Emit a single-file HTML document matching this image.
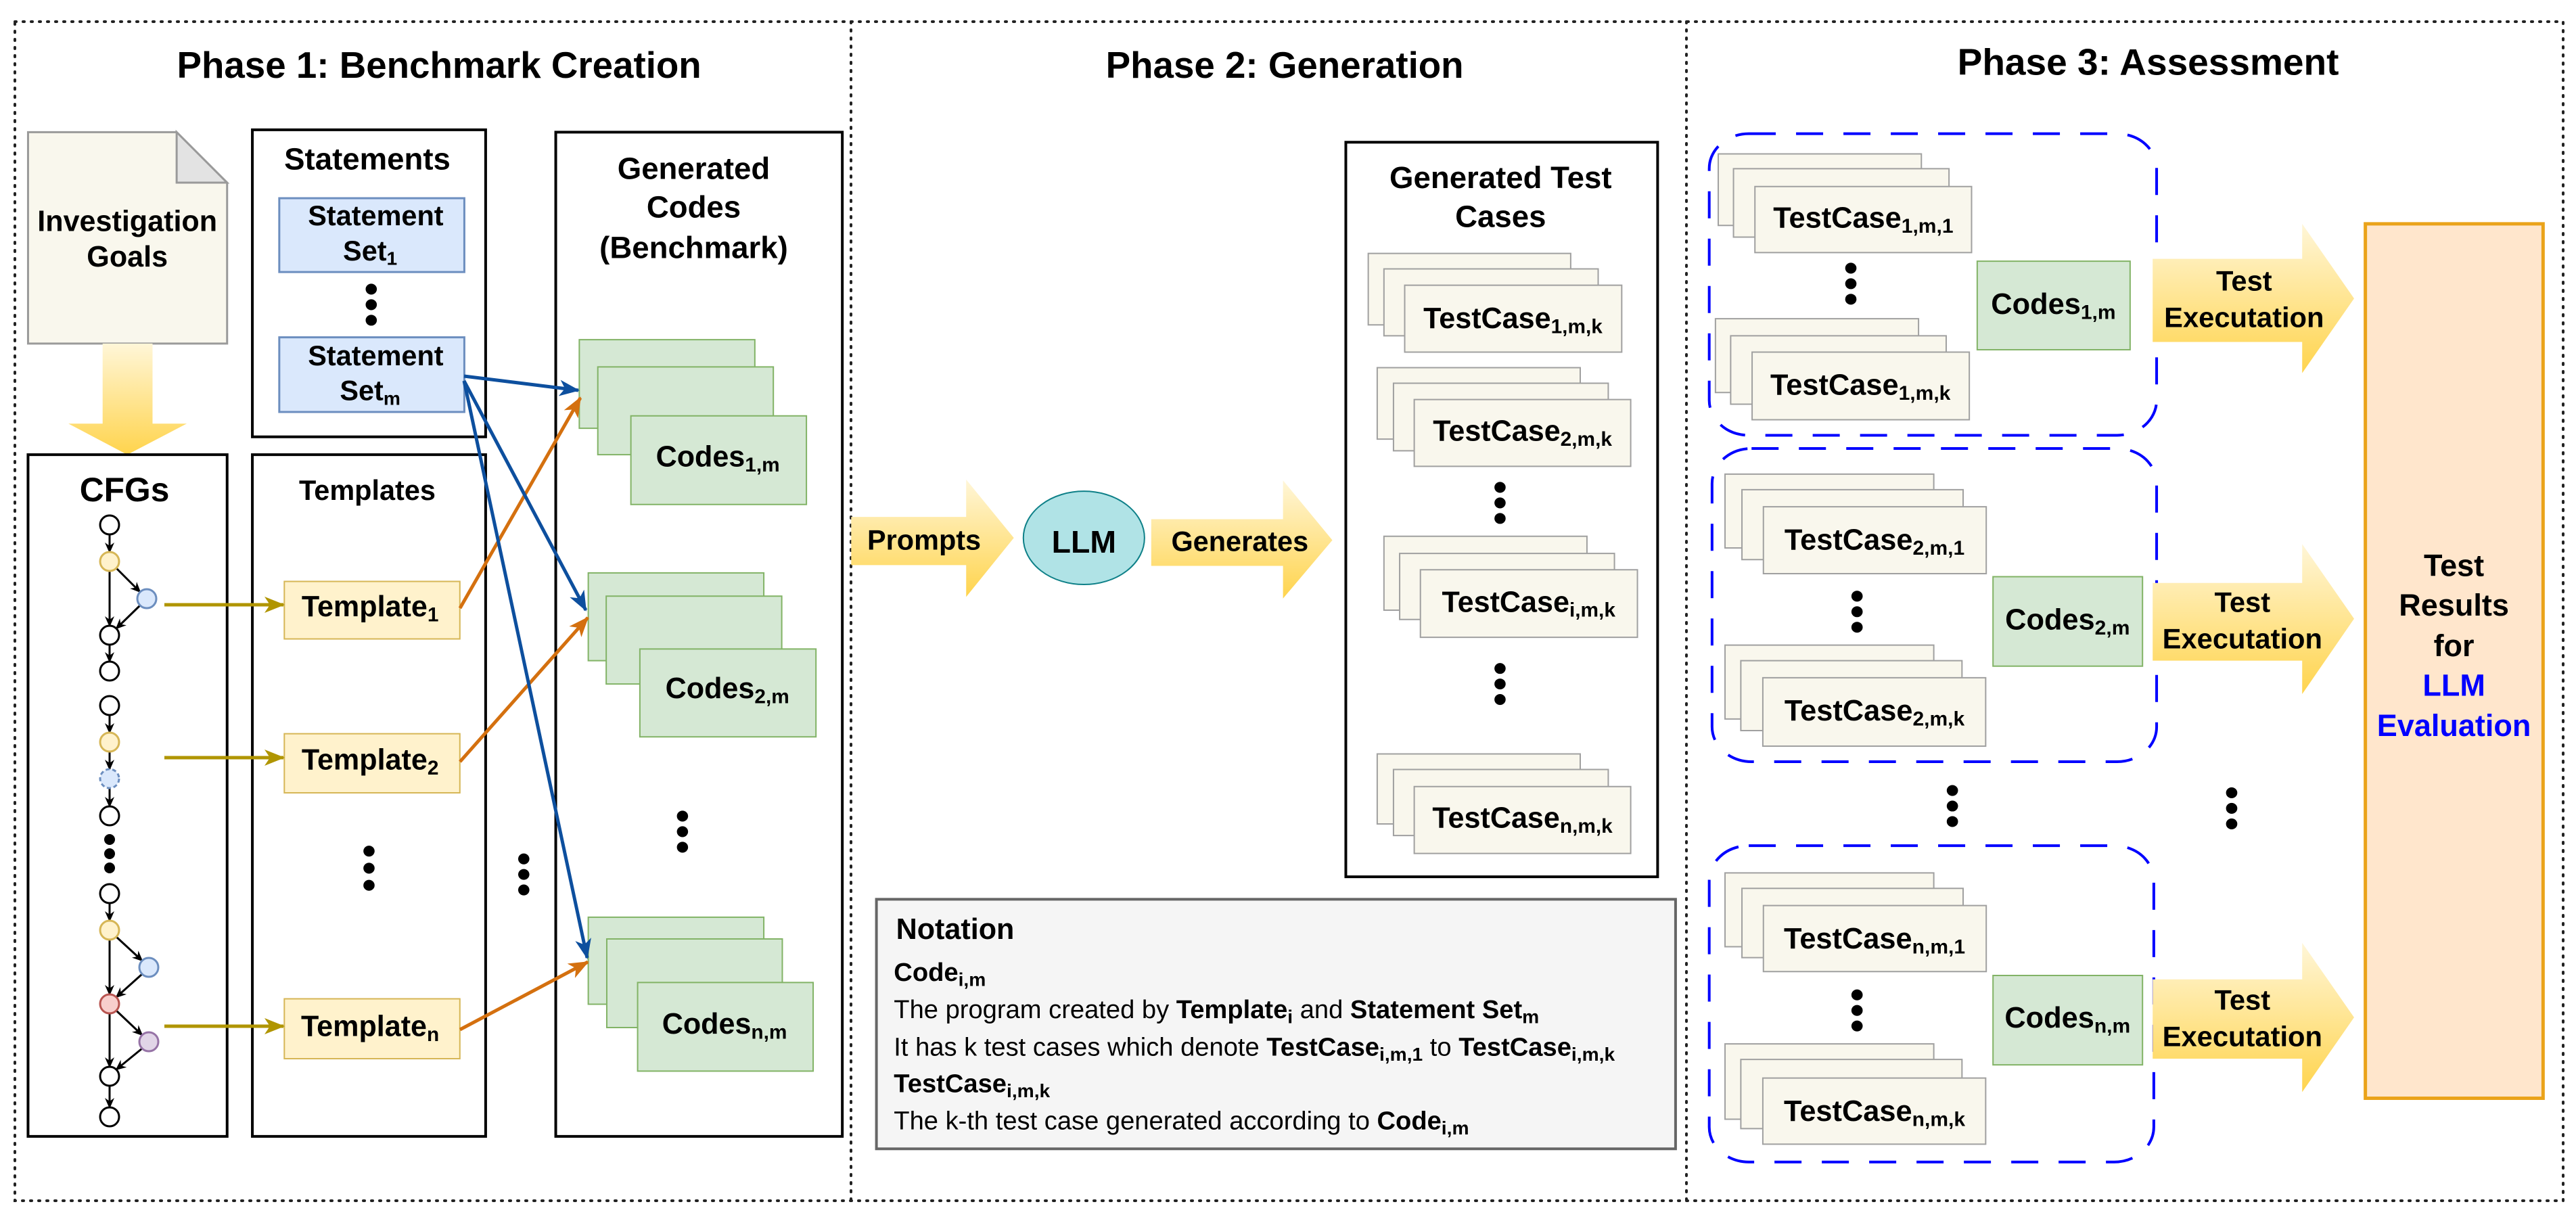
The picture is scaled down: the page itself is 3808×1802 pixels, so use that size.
<!DOCTYPE html>
<html><head><meta charset="utf-8"><style>
html,body{margin:0;padding:0;background:#fff;width:3808px;height:1802px;overflow:hidden}
svg{display:block}
text{font-family:"Liberation Sans",Arial,sans-serif;font-weight:bold;fill:#000}
rect,polygon,ellipse,path,line{vector-effect:non-scaling-stroke}
.bx{fill:#fff;stroke:#000;stroke-width:4}
.st{fill:#f9f7ed;stroke:#a0a0a0;stroke-width:2}
.gr{fill:#d5e8d4;stroke:#82b366;stroke-width:2}
.yl{fill:#fff2cc;stroke:#d6b656;stroke-width:2}
.bl{fill:#dae8fc;stroke:#6c8ebf;stroke-width:3}
.ds{fill:none;stroke:#0000ff;stroke-width:4;stroke-dasharray:40 30}
.ar{fill:url(#yg);stroke:none}
.n{font-weight:normal}
</style></head><body>
<svg width="3808" height="1802" viewBox="0 0 3808 1802" xmlns="http://www.w3.org/2000/svg">
<defs>
<linearGradient id="yg" x1="0" y1="0" x2="0" y2="1"><stop offset="0" stop-color="#fff6d8"/><stop offset="1" stop-color="#ffd44d"/></linearGradient>
<marker id="mk" markerUnits="userSpaceOnUse" markerWidth="16" markerHeight="16" refX="14" refY="8" orient="auto"><path d="M0,1 L16,8 L0,15 L5,8 z" fill="#000"/></marker>
<marker id="mo" markerUnits="userSpaceOnUse" markerWidth="30" markerHeight="26" refX="28" refY="13" orient="auto"><path d="M0,1 L30,13 L0,25 L8,13 z" fill="#b09500"/></marker>
<marker id="mr" markerUnits="userSpaceOnUse" markerWidth="30" markerHeight="26" refX="28" refY="13" orient="auto"><path d="M0,1 L30,13 L0,25 L8,13 z" fill="#d4700f"/></marker>
<marker id="mb" markerUnits="userSpaceOnUse" markerWidth="30" markerHeight="26" refX="28" refY="13" orient="auto"><path d="M0,1 L30,13 L0,25 L8,13 z" fill="#0d4f9e"/></marker>
</defs>

<!-- frame -->
<rect x="22" y="32" width="3767" height="1743" fill="none" stroke="#222" stroke-width="4" stroke-dasharray="2 10" stroke-linecap="round"/>
<line x1="1258" y1="32" x2="1258" y2="1775" stroke="#222" stroke-width="4" stroke-dasharray="2 10" stroke-linecap="round"/>
<line x1="2493" y1="32" x2="2493" y2="1775" stroke="#222" stroke-width="4" stroke-dasharray="2 10" stroke-linecap="round"/>

<!-- ===== Phase 1 ===== -->
<g transform="scale(0.829,1.149)">
<text text-anchor="middle" font-size="66" transform="translate(783,100) scale(1,0.7215)">Phase 1: Benchmark Creation</text>
<polygon points="50,170 315,170 405,235 405,442 50,442" fill="#f9f7ed" stroke="#9a9a9a" stroke-width="3"/>
<polygon points="315,170 315,235 405,235" fill="#e3e3e3" stroke="#9a9a9a" stroke-width="3"/>
<text text-anchor="middle" font-size="52" transform="translate(227,297) scale(1,0.7215)">Investigation</text>
<text text-anchor="middle" font-size="52" transform="translate(227,343) scale(1,0.7215)">Goals</text>
<polygon class="ar" points="183,442 272,442 272,545 333,545 227,585 122,545 183,545"/>

<rect class="bx" x="450" y="167" width="416" height="395"/>
<text text-anchor="middle" font-size="55" transform="translate(655,218) scale(1,0.7215)">Statements</text>
<rect class="bl" x="498" y="255" width="330" height="95"/>
<text text-anchor="middle" font-size="50" transform="translate(670,290) scale(1,0.7215)">Statement</text>
<text text-anchor="middle" font-size="50" transform="translate(660,335) scale(1,0.7215)">Set<tspan font-size="34" dy="8">1</tspan></text>
<ellipse cx="662" cy="372" rx="10" ry="7"/><ellipse cx="662" cy="392" rx="10" ry="7"/><ellipse cx="662" cy="412" rx="10" ry="7"/>
<rect class="bl" x="498" y="434" width="330" height="96"/>
<text text-anchor="middle" font-size="50" transform="translate(670,470) scale(1,0.7215)">Statement</text>
<text text-anchor="middle" font-size="50" transform="translate(660,515) scale(1,0.7215)">Set<tspan font-size="34" dy="8">m</tspan></text>

<rect class="bx" x="50" y="585" width="355" height="877"/>
<text text-anchor="middle" font-size="60" transform="translate(222,645) scale(1,0.7215)">CFGs</text>
<rect class="bx" x="450" y="585" width="416" height="877"/>
<text text-anchor="middle" font-size="50" transform="translate(655,643) scale(1,0.7215)">Templates</text>
<rect class="bx" x="991" y="170" width="511" height="1292"/>
<text text-anchor="middle" font-size="55" transform="translate(1237,230) scale(1,0.7215)">Generated</text>
<text text-anchor="middle" font-size="55" transform="translate(1237,280) scale(1,0.7215)">Codes</text>
<text text-anchor="middle" font-size="55" transform="translate(1237,332) scale(1,0.7215)">(Benchmark)</text>

<rect class="yl" x="507" y="748" width="313" height="74"/>
<text text-anchor="middle" font-size="52" transform="translate(660,793) scale(1,0.7215)">Template<tspan font-size="36" dy="9">1</tspan></text>
<rect class="yl" x="507" y="944" width="313" height="76"/>
<text text-anchor="middle" font-size="52" transform="translate(660,990) scale(1,0.7215)">Template<tspan font-size="36" dy="9">2</tspan></text>
<rect class="yl" x="507" y="1285" width="313" height="77"/>
<text text-anchor="middle" font-size="52" transform="translate(660,1333) scale(1,0.7215)">Template<tspan font-size="36" dy="9">n</tspan></text>
<ellipse cx="658" cy="1095" rx="10" ry="7"/><ellipse cx="658" cy="1117" rx="10" ry="7"/><ellipse cx="658" cy="1139" rx="10" ry="7"/>
<ellipse cx="934" cy="1105" rx="10" ry="7"/><ellipse cx="934" cy="1125" rx="10" ry="7"/><ellipse cx="934" cy="1145" rx="10" ry="7"/>
<ellipse cx="1217" cy="1050" rx="10" ry="7"/><ellipse cx="1217" cy="1070" rx="10" ry="7"/><ellipse cx="1217" cy="1090" rx="10" ry="7"/>

<rect class="gr" x="1033" y="437" width="313" height="114"/>
<rect class="gr" x="1066" y="472" width="313" height="113"/>
<rect class="gr" x="1125" y="535" width="313" height="114"/>
<text text-anchor="middle" font-size="52" transform="translate(1280,600) scale(1,0.7215)">Codes<tspan font-size="36" dy="9">1,m</tspan></text>
<rect class="gr" x="1049" y="737" width="313" height="113"/>
<rect class="gr" x="1081" y="767" width="313" height="113"/>
<rect class="gr" x="1141" y="835" width="314" height="113"/>
<text text-anchor="middle" font-size="52" transform="translate(1297,898) scale(1,0.7215)">Codes<tspan font-size="36" dy="9">2,m</tspan></text>
<rect class="gr" x="1049" y="1180" width="313" height="112"/>
<rect class="gr" x="1082" y="1208" width="313" height="114"/>
<rect class="gr" x="1137" y="1264" width="313" height="114"/>
<text text-anchor="middle" font-size="52" transform="translate(1292,1330) scale(1,0.7215)">Codes<tspan font-size="36" dy="9">n,m</tspan></text>
</g>

<!-- CFG graph (orig coords) -->
<g stroke="#000" stroke-width="3" fill="none">
<line x1="162" y1="790" x2="162" y2="816" marker-end="url(#mk)"/>
<line x1="162" y1="844" x2="162" y2="925" marker-end="url(#mk)"/>
<line x1="172" y1="840" x2="207" y2="875" marker-end="url(#mk)"/>
<line x1="207" y1="895" x2="172" y2="929" marker-end="url(#mk)"/>
<line x1="162" y1="953" x2="162" y2="978" marker-end="url(#mk)"/>
<line x1="162" y1="1057" x2="162" y2="1083" marker-end="url(#mk)"/>
<line x1="162" y1="1111" x2="162" y2="1137" marker-end="url(#mk)"/>
<line x1="162" y1="1165" x2="162" y2="1192" marker-end="url(#mk)"/>
<line x1="162" y1="1335" x2="162" y2="1361" marker-end="url(#mk)"/>
<line x1="162" y1="1389" x2="162" y2="1470" marker-end="url(#mk)"/>
<line x1="172" y1="1385" x2="210" y2="1420" marker-end="url(#mk)"/>
<line x1="210" y1="1440" x2="172" y2="1474" marker-end="url(#mk)"/>
<line x1="162" y1="1498" x2="162" y2="1577" marker-end="url(#mk)"/>
<line x1="172" y1="1494" x2="210" y2="1530" marker-end="url(#mk)"/>
<line x1="210" y1="1550" x2="172" y2="1581" marker-end="url(#mk)"/>
<line x1="162" y1="1605" x2="162" y2="1637" marker-end="url(#mk)"/>
</g>
<g stroke-width="3">
<circle cx="162" cy="776" r="14" fill="#fff" stroke="#000"/>
<circle cx="162" cy="830" r="14" fill="#fff2cc" stroke="#d6b656"/>
<circle cx="217" cy="885" r="14" fill="#dae8fc" stroke="#6c8ebf"/>
<circle cx="162" cy="939" r="14" fill="#fff" stroke="#000"/>
<circle cx="162" cy="992" r="14" fill="#fff" stroke="#000"/>
<circle cx="162" cy="1043" r="14" fill="#fff" stroke="#000"/>
<circle cx="162" cy="1097" r="14" fill="#fff2cc" stroke="#d6b656"/>
<circle cx="162" cy="1151" r="14" fill="#dae8fc" stroke="#6c8ebf" stroke-dasharray="6 4"/>
<circle cx="162" cy="1206" r="14" fill="#fff" stroke="#000"/>
<circle cx="162" cy="1241" r="8" fill="#000" stroke="none"/>
<circle cx="162" cy="1262" r="8" fill="#000" stroke="none"/>
<circle cx="162" cy="1283" r="8" fill="#000" stroke="none"/>
<circle cx="162" cy="1321" r="14" fill="#fff" stroke="#000"/>
<circle cx="162" cy="1375" r="14" fill="#fff2cc" stroke="#d6b656"/>
<circle cx="220" cy="1430" r="14" fill="#dae8fc" stroke="#6c8ebf"/>
<circle cx="162" cy="1484" r="14" fill="#f8cecc" stroke="#b85450"/>
<circle cx="220" cy="1540" r="14" fill="#e1d5e7" stroke="#9673a6"/>
<circle cx="162" cy="1591" r="14" fill="#fff" stroke="#000"/>
<circle cx="162" cy="1651" r="14" fill="#fff" stroke="#000"/>
</g>

<!-- connectors -->
<g stroke-width="5" fill="none">
<line x1="243" y1="894" x2="419" y2="894" stroke="#b09500" marker-end="url(#mo)"/>
<line x1="243" y1="1120" x2="419" y2="1120" stroke="#b09500" marker-end="url(#mo)"/>
<line x1="243" y1="1517" x2="419" y2="1517" stroke="#b09500" marker-end="url(#mo)"/>
<line x1="680" y1="899" x2="858" y2="588" stroke="#d4700f" marker-end="url(#mr)"/>
<line x1="680" y1="1126" x2="869" y2="913" stroke="#d4700f" marker-end="url(#mr)"/>
<line x1="680" y1="1522" x2="869" y2="1422" stroke="#d4700f" marker-end="url(#mr)"/>
<line x1="686" y1="556" x2="855" y2="577" stroke="#0d4f9e" marker-end="url(#mb)"/>
<line x1="686" y1="563" x2="866" y2="902" stroke="#0d4f9e" marker-end="url(#mb)"/>
<line x1="686" y1="563" x2="868" y2="1416" stroke="#0d4f9e" marker-end="url(#mb)"/>
</g>

<!-- ===== Phase 2 ===== -->
<g transform="translate(1250,0) scale(0.829,1.149)">
<text text-anchor="middle" font-size="66" transform="translate(783,100) scale(1,0.7215)">Phase 2: Generation</text>
<polygon class="ar" points="10,665 215,665 215,617 300,692 215,768 215,727 10,727"/>
<text text-anchor="middle" font-size="50" transform="translate(140,707) scale(1,0.7215)">Prompts</text>
<ellipse cx="425" cy="692" rx="108" ry="60" fill="#b0e3e6" stroke="#0e8088" stroke-width="2"/>
<text text-anchor="middle" font-size="56" transform="translate(425,711) scale(1,0.7215)">LLM</text>
<polygon class="ar" points="545,668 780,668 780,618 868,695 780,770 780,728 545,728"/>
<text text-anchor="middle" font-size="50" transform="translate(703,709) scale(1,0.7215)">Generates</text>

<rect class="bx" x="892" y="183" width="556" height="945"/>
<text text-anchor="middle" font-size="55" transform="translate(1168,242) scale(1,0.7215)">Generated Test</text>
<text text-anchor="middle" font-size="55" transform="translate(1168,292) scale(1,0.7215)">Cases</text>

<rect class="st" x="932" y="326" width="361" height="92"/><rect class="st" x="960" y="346" width="382" height="86"/><rect class="st" x="997" y="367" width="387" height="86"/>
<text text-anchor="middle" font-size="52" transform="translate(1190,422) scale(1,0.7215)">TestCase<tspan font-size="36" dy="9">1,m,k</tspan></text>
<rect class="st" x="948" y="473" width="362" height="92"/><rect class="st" x="977" y="493" width="383" height="87"/><rect class="st" x="1014" y="514" width="386" height="86"/>
<text text-anchor="middle" font-size="52" transform="translate(1207,567) scale(1,0.7215)">TestCase<tspan font-size="36" dy="9">2,m,k</tspan></text>
<ellipse cx="1167" cy="627" rx="10" ry="7"/><ellipse cx="1167" cy="647" rx="10" ry="7"/><ellipse cx="1167" cy="667" rx="10" ry="7"/>
<rect class="st" x="960" y="690" width="362" height="95"/><rect class="st" x="988" y="712" width="383" height="85"/><rect class="st" x="1025" y="733" width="387" height="87"/>
<text text-anchor="middle" font-size="52" transform="translate(1218,787) scale(1,0.7215)">TestCase<tspan font-size="36" dy="9">i,m,k</tspan></text>
<ellipse cx="1167" cy="860" rx="10" ry="7"/><ellipse cx="1167" cy="880" rx="10" ry="7"/><ellipse cx="1167" cy="900" rx="10" ry="7"/>
<rect class="st" x="948" y="970" width="362" height="90"/><rect class="st" x="977" y="990" width="383" height="85"/><rect class="st" x="1014" y="1012" width="386" height="86"/>
<text text-anchor="middle" font-size="52" transform="translate(1207,1065) scale(1,0.7215)">TestCase<tspan font-size="36" dy="9">n,m,k</tspan></text>

<rect x="55" y="1157" width="1425" height="321" fill="#f5f5f5" stroke="#666" stroke-width="4"/>
<text font-size="52" transform="translate(90,1208) scale(1,0.7215)">Notation</text>
<text font-size="46" transform="translate(86,1262) scale(1,0.7215)">Code<tspan font-size="34" dy="9">i,m</tspan></text>
<text font-size="46" transform="translate(86,1310) scale(1,0.7215)"><tspan class="n">The program created by </tspan>Template<tspan font-size="34" dy="9">i</tspan><tspan dy="-9" class="n"> and </tspan>Statement Set<tspan font-size="34" dy="9">m</tspan></text>
<text font-size="46" transform="translate(86,1358) scale(1,0.7215)"><tspan class="n">It has k test cases which denote </tspan>TestCase<tspan font-size="34" dy="9">i,m,1</tspan><tspan dy="-9" class="n"> to </tspan>TestCase<tspan font-size="34" dy="9">i,m,k</tspan></text>
<text font-size="46" transform="translate(86,1405) scale(1,0.7215)">TestCase<tspan font-size="34" dy="9">i,m,k</tspan></text>
<text font-size="46" transform="translate(86,1453) scale(1,0.7215)"><tspan class="n">The k-th test case generated according to </tspan>Code<tspan font-size="34" dy="9">i,m</tspan></text>
</g>

<!-- ===== Phase 3 ===== -->
<g transform="translate(2500,0) scale(0.834,1.149)">
<text text-anchor="middle" font-size="66" transform="translate(810,96) scale(1,0.7258)">Phase 3: Assessment</text>

<rect class="ds" x="32" y="172" width="793" height="388" rx="70" ry="45"/>
<rect class="ds" x="37" y="577" width="788" height="403" rx="70" ry="45"/>
<rect class="ds" x="32" y="1088" width="788" height="407" rx="70" ry="45"/>

<rect class="st" x="48" y="198" width="360" height="92"/><rect class="st" x="75" y="217" width="382" height="88"/><rect class="st" x="113" y="240" width="384" height="85"/>
<text text-anchor="middle" font-size="52" transform="translate(305,293) scale(1,0.7258)">TestCase<tspan font-size="36" dy="9">1,m,1</tspan></text>
<ellipse cx="283" cy="345" rx="10" ry="7"/><ellipse cx="283" cy="365" rx="10" ry="7"/><ellipse cx="283" cy="385" rx="10" ry="7"/>
<rect class="st" x="43" y="410" width="360" height="95"/><rect class="st" x="70" y="432" width="382" height="88"/><rect class="st" x="108" y="453" width="385" height="87"/>
<text text-anchor="middle" font-size="52" transform="translate(300,508) scale(1,0.7258)">TestCase<tspan font-size="36" dy="9">1,m,k</tspan></text>
<rect class="gr" x="507" y="336" width="271" height="114"/>
<text text-anchor="middle" font-size="52" transform="translate(642,404) scale(1,0.7258)">Codes<tspan font-size="36" dy="9">1,m</tspan></text>
<polygon class="ar" points="818,333 1083,333 1083,288 1175,384 1083,480 1083,440 818,440"/>
<text text-anchor="middle" font-size="50" transform="translate(980,374) scale(1,0.7258)">Test</text>
<text text-anchor="middle" font-size="50" transform="translate(980,421) scale(1,0.7258)">Executation</text>

<rect class="st" x="60" y="610" width="370" height="95"/><rect class="st" x="90" y="630" width="392" height="90"/><rect class="st" x="128" y="652" width="395" height="86"/>
<text text-anchor="middle" font-size="52" transform="translate(325,707) scale(1,0.7258)">TestCase<tspan font-size="36" dy="9">2,m,1</tspan></text>
<ellipse cx="294" cy="767" rx="10" ry="7"/><ellipse cx="294" cy="787" rx="10" ry="7"/><ellipse cx="294" cy="807" rx="10" ry="7"/>
<rect class="st" x="60" y="830" width="370" height="95"/><rect class="st" x="88" y="850" width="392" height="90"/><rect class="st" x="127" y="872" width="395" height="88"/>
<text text-anchor="middle" font-size="52" transform="translate(325,927) scale(1,0.7258)">TestCase<tspan font-size="36" dy="9">2,m,k</tspan></text>
<rect class="gr" x="535" y="742" width="265" height="115"/>
<text text-anchor="middle" font-size="52" transform="translate(667,810) scale(1,0.7258)">Codes<tspan font-size="36" dy="9">2,m</tspan></text>
<polygon class="ar" points="818,750 1083,750 1083,700 1175,796 1083,893 1083,850 818,850"/>
<text text-anchor="middle" font-size="50" transform="translate(977,787) scale(1,0.7258)">Test</text>
<text text-anchor="middle" font-size="50" transform="translate(977,834) scale(1,0.7258)">Executation</text>

<ellipse cx="463" cy="1017" rx="10" ry="7"/><ellipse cx="463" cy="1037" rx="10" ry="7"/><ellipse cx="463" cy="1057" rx="10" ry="7"/>
<ellipse cx="958" cy="1020" rx="10" ry="7"/><ellipse cx="958" cy="1040" rx="10" ry="7"/><ellipse cx="958" cy="1060" rx="10" ry="7"/>

<rect class="st" x="60" y="1123" width="370" height="95"/><rect class="st" x="90" y="1143" width="392" height="89"/><rect class="st" x="128" y="1165" width="395" height="85"/>
<text text-anchor="middle" font-size="52" transform="translate(325,1220) scale(1,0.7258)">TestCase<tspan font-size="36" dy="9">n,m,1</tspan></text>
<ellipse cx="294" cy="1280" rx="10" ry="7"/><ellipse cx="294" cy="1300" rx="10" ry="7"/><ellipse cx="294" cy="1320" rx="10" ry="7"/>
<rect class="st" x="60" y="1343" width="370" height="97"/><rect class="st" x="88" y="1363" width="392" height="89"/><rect class="st" x="127" y="1387" width="395" height="85"/>
<text text-anchor="middle" font-size="52" transform="translate(325,1442) scale(1,0.7258)">TestCase<tspan font-size="36" dy="9">n,m,k</tspan></text>
<rect class="gr" x="535" y="1255" width="265" height="115"/>
<text text-anchor="middle" font-size="52" transform="translate(667,1322) scale(1,0.7258)">Codes<tspan font-size="36" dy="9">n,m</tspan></text>
<polygon class="ar" points="818,1260 1083,1260 1083,1213 1175,1309 1083,1405 1083,1362 818,1362"/>
<text text-anchor="middle" font-size="50" transform="translate(977,1299) scale(1,0.7258)">Test</text>
<text text-anchor="middle" font-size="50" transform="translate(977,1346) scale(1,0.7258)">Executation</text>

<rect x="1195" y="288" width="315" height="1125" fill="#ffe6cc" stroke="#eaa31a" stroke-width="5"/>
<text text-anchor="middle" font-size="54" transform="translate(1352,741) scale(1,0.7258)">Test</text>
<text text-anchor="middle" font-size="54" transform="translate(1352,792) scale(1,0.7258)">Results</text>
<text text-anchor="middle" font-size="54" transform="translate(1352,844) scale(1,0.7258)">for</text>
<text text-anchor="middle" font-size="54" fill="#0000ff" style="fill:#0000ff" transform="translate(1352,895) scale(1,0.7258)">LLM</text>
<text text-anchor="middle" font-size="54" style="fill:#0000ff" transform="translate(1352,947) scale(1,0.7258)">Evaluation</text>
</g>
</svg>
</body></html>
